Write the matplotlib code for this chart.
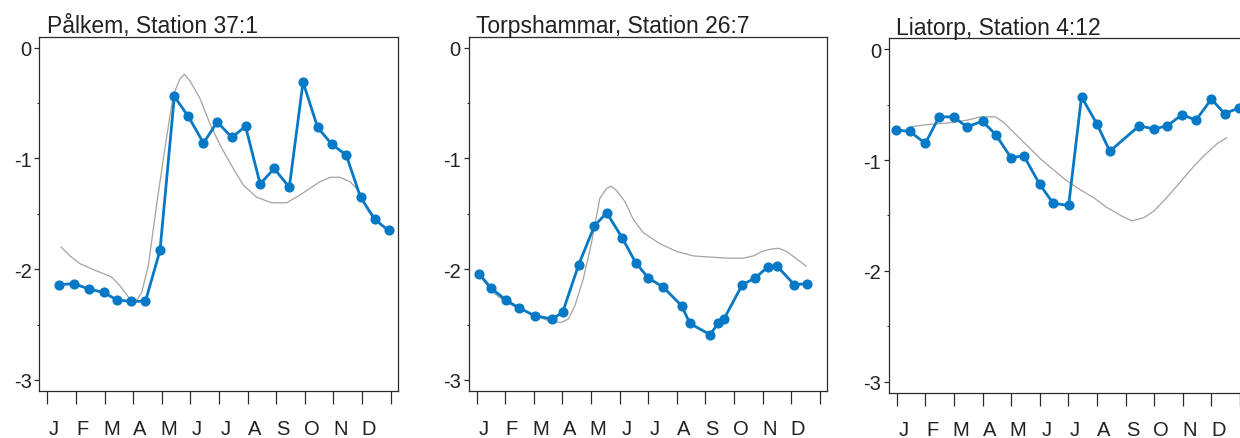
import matplotlib
matplotlib.use('Agg')
import matplotlib.pyplot as plt
from matplotlib.ticker import FixedLocator, NullFormatter, FixedFormatter

plt.rcParams['font.family'] = ['Liberation Sans', 'DejaVu Sans']
plt.rcParams['axes.unicode_minus'] = False

# month labels (ticks at month boundaries 0..12)
months = ['J', 'F', 'M', 'A', 'M', 'J', 'J', 'A', 'S', 'O', 'N', 'D']

titles = ['Pålkem, Station 37:1', 'Torpshammar, Station 26:7', 'Liatorp, Station 4:12']

# Pålkem - measured series (blue)
p1_x = [0.41, 0.92, 1.47, 1.97, 2.45, 2.94, 3.43, 3.94, 4.44, 4.93, 5.46, 5.94,
        6.45, 6.93, 7.44, 7.93, 8.46, 8.94, 9.45, 9.94, 10.45, 10.95, 11.44, 11.93]
p1_y = [-2.14, -2.13, -2.18, -2.21, -2.28, -2.29, -2.29, -1.83, -0.44, -0.62, -0.86, -0.67,
        -0.81, -0.71, -1.23, -1.09, -1.26, -0.31, -0.72, -0.87, -0.97, -1.35, -1.55, -1.65]
# Pålkem - reference curve (gray)
p1_gx = [0.48, 0.79, 1.14, 1.67, 2.25, 2.54, 2.89, 3.12, 3.30, 3.53, 3.82, 4.11, 4.40,
         4.64, 4.79, 4.99, 5.34, 5.69, 6.04, 6.50, 6.85, 7.32, 7.84, 8.37, 8.83, 9.18,
         9.53, 9.88, 10.23, 10.58, 10.81, 10.99, 11.28, 11.51, 11.86]
p1_gy = [-1.80, -1.88, -1.95, -2.01, -2.07, -2.15, -2.27, -2.28, -2.21, -1.97, -1.42, -0.91,
         -0.43, -0.28, -0.24, -0.30, -0.46, -0.69, -0.88, -1.09, -1.24, -1.35, -1.40, -1.40,
         -1.33, -1.27, -1.21, -1.17, -1.17, -1.21, -1.27, -1.36, -1.47, -1.55, -1.64]

# Torpshammar
p2_x = [0.08, 0.51, 1.03, 1.49, 2.03, 2.65, 3.01, 3.57, 4.12, 4.55, 5.10, 5.56, 6.01,
        6.52, 7.17, 7.46, 8.16, 8.45, 8.65, 9.29, 9.74, 10.18, 10.50, 11.11, 11.55]
p2_y = [-2.04, -2.17, -2.28, -2.35, -2.42, -2.45, -2.39, -1.96, -1.61, -1.49, -1.72, -1.94,
        -2.08, -2.16, -2.33, -2.49, -2.59, -2.49, -2.45, -2.14, -2.08, -1.98, -1.97, -2.14, -2.13]
p2_gx = [0.10, 0.52, 1.05, 1.52, 2.04, 2.57, 2.97, 3.21, 3.44, 3.73, 4.02, 4.31, 4.55, 4.70,
         4.90, 5.19, 5.48, 5.83, 6.41, 7.00, 7.58, 8.16, 8.75, 9.33, 9.68, 9.97, 10.26,
         10.55, 10.85, 11.20, 11.52]
p2_gy = [-2.05, -2.20, -2.30, -2.36, -2.42, -2.47, -2.48, -2.45, -2.33, -2.09, -1.76, -1.36,
         -1.27, -1.25, -1.29, -1.39, -1.55, -1.67, -1.77, -1.84, -1.88, -1.89, -1.90, -1.90,
         -1.88, -1.84, -1.82, -1.81, -1.84, -1.91, -1.97]

# Liatorp
p3_x = [-0.01, 0.45, 1.00, 1.48, 1.99, 2.45, 3.00, 3.46, 4.00, 4.44, 5.00, 5.47,
        6.01, 6.46, 6.99, 7.45, 8.48, 8.99, 9.46, 9.98, 10.46, 11.00, 11.46, 11.97]
p3_y = [-0.73, -0.74, -0.85, -0.61, -0.61, -0.70, -0.65, -0.77, -0.98, -0.96, -1.22, -1.39,
        -1.41, -0.43, -0.67, -0.92, -0.69, -0.72, -0.69, -0.59, -0.64, -0.45, -0.58, -0.53]
p3_gx = [0.48, 1.06, 1.53, 1.99, 2.46, 2.93, 3.45, 3.74, 4.09, 4.56, 5.03, 5.49, 5.96,
         6.43, 6.89, 7.36, 7.83, 8.23, 8.64, 8.99, 9.40, 9.81, 10.27, 10.74, 11.21, 11.53]
p3_gy = [-0.70, -0.68, -0.67, -0.66, -0.64, -0.61, -0.61, -0.66, -0.75, -0.87, -0.99, -1.09,
         -1.19, -1.27, -1.34, -1.43, -1.50, -1.55, -1.52, -1.46, -1.35, -1.23, -1.09, -0.96,
         -0.85, -0.80]

panels = [(p1_x, p1_y, p1_gx, p1_gy), (p2_x, p2_y, p2_gx, p2_gy), (p3_x, p3_y, p3_gx, p3_gy)]

blue = '#0579c5'
gray = '#a3a3a3'
dark = '#2b2b2b'

W, H = 1240, 439
fig = plt.figure(figsize=(W / 100, H / 100), dpi=100)

# axes boxes in pixels: left, top, width, height (third one runs off the right edge)
boxes = [(39.3, 37.7, 359, 354.3), (468.5, 37.7, 359, 354.3), (888.7, 39.2, 359, 354.5)]

for i, (bx, by, gx, gy) in enumerate(panels):
    l, t, w, h = boxes[i]
    ax = fig.add_axes([l / W, 1 - (t + h) / H, w / W, h / H])
    ax.plot(gx, gy, color=gray, lw=0.9, zorder=2)
    ax.plot(bx, by, color=blue, lw=2.0, marker='o', ms=6.3, mec=blue, mfc=blue, zorder=3)

    ax.set_xlim(-0.28, 12.27)
    ax.set_ylim(-3.1, 0.1)

    for s in ax.spines.values():
        s.set_color(dark)
        s.set_linewidth(0.9)

    ax.xaxis.set_major_locator(FixedLocator(range(13)))
    ax.xaxis.set_major_formatter(NullFormatter())
    ax.xaxis.set_minor_locator(FixedLocator([m + 0.24 for m in range(12)]))
    ax.xaxis.set_minor_formatter(FixedFormatter(months))
    ax.tick_params(axis='x', which='major', direction='out', length=9, width=0.9, color=dark)
    ax.tick_params(axis='x', which='minor', length=0, pad=20, labelsize=14.5, labelcolor='#222222')

    ax.set_yticks([0, -1, -2, -3])
    ax.set_yticklabels(['0', '-1', '-2', '-3'])
    ax.yaxis.set_minor_locator(FixedLocator([-0.5, -1.5, -2.5]))
    ax.tick_params(axis='y', which='major', direction='out', length=3.5, width=0.9, color=dark,
                   labelsize=14.5, labelcolor='#222222', pad=2)
    ax.tick_params(axis='y', which='minor', direction='out', length=1.5, width=0.8, color=dark)

    ax.text(0.021, 1.012, titles[i], transform=ax.transAxes, ha='left', va='baseline',
            fontsize=16.5, color='#222222')

fig.savefig('out.png', dpi=100)
